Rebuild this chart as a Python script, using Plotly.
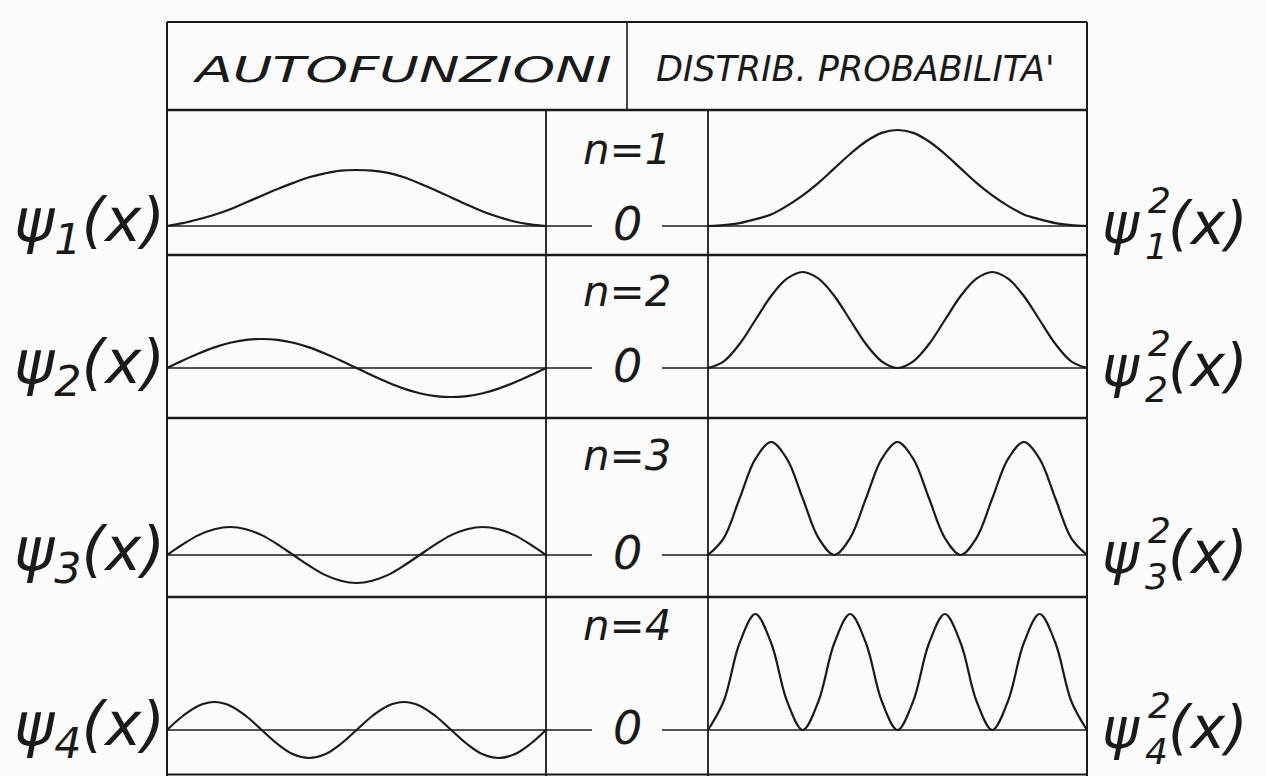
import plotly.graph_objects as go

W, H = 1266, 776

# ---------------- data ----------------
x_grid = [k / 24 for k in range(25)]
n_values = [1, 2, 3, 4]
header_labels = ["AUTOFUNZIONI", "DISTRIB. PROBABILITA'"]
row_labels = ["n=1", "n=2", "n=3", "n=4"]
zero_label = "0"

psi_1 = [0, 0.05, 0.12, 0.20, 0.30, 0.42, 0.54, 0.66, 0.77, 0.87, 0.94, 0.99, 1.0,
         0.99, 0.95, 0.87, 0.76, 0.64, 0.51, 0.38, 0.26, 0.16, 0.08, 0.03, 0]
psi_2 = [0, 0.26, 0.5, 0.71, 0.87, 0.97, 1.0, 0.97, 0.87, 0.71, 0.5, 0.26, 0,
         -0.26, -0.5, -0.71, -0.87, -0.97, -1.0, -0.97, -0.87, -0.71, -0.5, -0.26, 0]
psi_3 = [0, 0.38, 0.71, 0.92, 1.0, 0.92, 0.71, 0.38, 0, -0.38, -0.71, -0.92, -1.0,
         -0.92, -0.71, -0.38, 0, 0.38, 0.71, 0.92, 1.0, 0.92, 0.71, 0.38, 0]
psi_4 = [0, 0.5, 0.87, 1.0, 0.87, 0.5, 0, -0.5, -0.87, -1.0, -0.87, -0.5, 0,
         0.5, 0.87, 1.0, 0.87, 0.5, 0, -0.5, -0.87, -1.0, -0.87, -0.5, 0]

prob_1 = [0, 0.01, 0.03, 0.07, 0.12, 0.21, 0.32, 0.45, 0.60, 0.75, 0.88, 0.97, 1.0,
          0.97, 0.88, 0.75, 0.60, 0.45, 0.32, 0.21, 0.12, 0.07, 0.03, 0.01, 0]
prob_2 = [0, 0.07, 0.25, 0.5, 0.75, 0.93, 1.0, 0.93, 0.75, 0.5, 0.25, 0.07, 0,
          0.07, 0.25, 0.5, 0.75, 0.93, 1.0, 0.93, 0.75, 0.5, 0.25, 0.07, 0]
prob_3 = [0, 0.15, 0.5, 0.85, 1.0, 0.85, 0.5, 0.15, 0, 0.15, 0.5, 0.85, 1.0,
          0.85, 0.5, 0.15, 0, 0.15, 0.5, 0.85, 1.0, 0.85, 0.5, 0.15, 0]
prob_4 = [0, 0.25, 0.75, 1.0, 0.75, 0.25, 0, 0.25, 0.75, 1.0, 0.75, 0.25, 0,
          0.25, 0.75, 1.0, 0.75, 0.25, 0, 0.25, 0.75, 1.0, 0.75, 0.25, 0]

psi_series = [psi_1, psi_2, psi_3, psi_4]
prob_series = [prob_1, prob_2, prob_3, prob_4]

# ---------------- layout geometry (pixels) ----------------
X_LEFT, X_MID_L, X_MID_R, X_RIGHT, X_HEAD_DIV = 167, 546, 708, 1087, 627
Y_TOP, Y_HEAD = 22, 110
row_top = [110, 255, 418, 597]
row_bot = [255, 418, 597, 775]
row_zero = [226, 368, 555, 730]
row_nlab = [150, 291, 455, 625]
amp_left = [56, 29, 28, 28]
amp_right = [96, 96, 113, 116]

def px(xp):
    return xp / W

def py(yp):
    return 1 - yp / H

INK = "#1a1a1a"
FONT = "DejaVu Sans"

fig = go.Figure()
layout = dict(width=W, height=H, margin=dict(l=0, r=0, t=0, b=0),
              paper_bgcolor="#fbfbfb", plot_bgcolor="rgba(0,0,0,0)",
              showlegend=False)

for r in range(4):
    for side in range(2):
        idx = r * 2 + side + 1
        amp = amp_left[r] if side == 0 else amp_right[r]
        ys = psi_series[r] if side == 0 else prob_series[r]
        xd = [px(X_LEFT), px(X_MID_L)] if side == 0 else [px(X_MID_R), px(X_RIGHT)]
        yd = [py(row_bot[r]), py(row_top[r])]
        yr = [-(row_bot[r] - row_zero[r]) / amp, (row_zero[r] - row_top[r]) / amp]
        sfx = "" if idx == 1 else str(idx)
        layout["xaxis" + sfx] = dict(domain=xd, range=[0, 1], visible=False,
                                     anchor="y" + sfx, fixedrange=True)
        layout["yaxis" + sfx] = dict(domain=yd, range=yr, visible=False,
                                     anchor="x" + sfx, fixedrange=True)
        fig.add_trace(go.Scatter(x=x_grid, y=ys, mode="lines",
                                 line=dict(color=INK, width=2.2, shape="spline", smoothing=1.0),
                                 xaxis="x" + sfx, yaxis="y" + sfx, hoverinfo="skip"))

shapes = []
def seg(x0, y0, x1, y1, w=2):
    shapes.append(dict(type="line", xref="paper", yref="paper",
                       x0=px(x0), y0=py(y0), x1=px(x1), y1=py(y1),
                       line=dict(color=INK, width=w)))

seg(X_LEFT, Y_TOP, X_RIGHT, Y_TOP, 2)
seg(X_LEFT, Y_TOP, X_LEFT, 776, 2)
seg(X_RIGHT, Y_TOP, X_RIGHT, 776, 2)
seg(X_HEAD_DIV, Y_TOP, X_HEAD_DIV, Y_HEAD, 1.6)
for yy in row_top:
    seg(X_LEFT, yy, X_RIGHT, yy, 2.6)
seg(X_LEFT, 774.5, X_RIGHT, 774.5, 2)
seg(X_MID_L, Y_HEAD, X_MID_L, 776, 1.8)
seg(X_MID_R, Y_HEAD, X_MID_R, 776, 1.8)

# zero lines (y in data coordinates of each row)
for r in range(4):
    yref = "y" if r == 0 else "y" + str(r * 2 + 1)
    for (a, b) in [(X_LEFT, 592), (662, X_RIGHT)]:
        shapes.append(dict(type="line", xref="paper", yref=yref,
                           x0=px(a), x1=px(b), y0=0, y1=0,
                           line=dict(color=INK, width=1.5)))
layout["shapes"] = shapes

ann = []
def text(xp, yp, s, size, xanchor="center", yanchor="middle"):
    ann.append(dict(xref="paper", yref="paper", x=px(xp), y=py(yp), text=s,
                    showarrow=False, xanchor=xanchor, yanchor=yanchor, borderpad=0,
                    font=dict(family=FONT, size=size, color=INK, style="italic")))

text(402, 69, header_labels[0], 36)
text(856, 69, header_labels[1], 35)

for r in range(4):
    n = n_values[r]
    z = row_zero[r]
    text(627, row_nlab[r], row_labels[r], 42)
    text(627, z - 2, zero_label, 46)
    # left label psi_n(x)
    text(166, z - 2, "ψ<sub>%d</sub>(x)" % n, 61, xanchor="right")
    # right label psi_n^2(x): psi, stacked superscript 2 / subscript n, then (x)
    text(1101, z - 2, "ψ", 56, xanchor="left")
    text(1159, z - 25, "2", 36)
    text(1156, z + 21, str(n), 36)
    text(1249, z - 2, "(x)", 58, xanchor="right")

layout["annotations"] = ann
fig.update_layout(**layout)

post = """
document.body.style.margin = '0';
document.body.style.padding = '0';
document.body.style.background = '#fbfbfb';
var ts = document.querySelectorAll('.annotation-text');
ts.forEach(function(e){
  if (e.textContent === 'AUTOFUNZIONI') {
    var b = e.getBBox();
    var cx = b.x + b.width / 2;
    var sx = 419 / b.width;
    var prev = e.getAttribute('transform') || '';
    e.setAttribute('transform', prev + ' translate(' + cx + ',0) scale(' + sx + ',1) translate(' + (-cx) + ',0)');
  }
});
"""
fig.write_html("out.html", post_script=post, config={"displayModeBar": False})
